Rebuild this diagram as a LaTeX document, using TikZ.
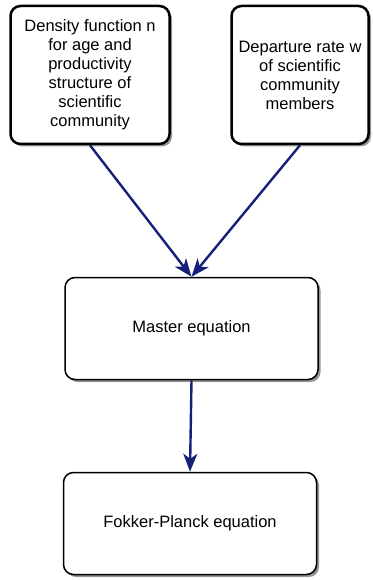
\documentclass[tikz,border=0pt]{standalone}
\usepackage{fontspec}
\setmainfont{Liberation Sans}
\usetikzlibrary{arrows.meta,shadows,positioning}
\definecolor{flowblue}{RGB}{22,32,122}
\definecolor{shadowgray}{RGB}{150,150,150}
\tikzstyle{box}=[draw, rounded corners=10pt, fill=white, align=center, inner sep=0,
                 font=\fontsize{16.5}{19}\selectfont,
                 drop shadow={shadow xshift=2.5pt, shadow yshift=-2.5pt, fill=shadowgray, opacity=1}]
\tikzstyle{inbox}=[box, line width=2.5pt, minimum height=138pt]
\tikzstyle{eqbox}=[box, line width=1.5pt, minimum width=253pt, minimum height=102pt]
\tikzstyle{flow}=[draw=flowblue, line width=2.4pt,
                  -{Stealth[length=18pt, width=14pt, inset=5pt, fill=flowblue]}]
\begin{document}
\begin{tikzpicture}[x=1pt, y=-1pt]
    \useasboundingbox (0, 0) rectangle (372, 580);
    % input boxes
    \node[inbox, minimum width=159pt] (density) at (90, 75)
        {Density function n\\for age and\\productivity\\structure of\\scientific\\community};
    \node[inbox, minimum width=137pt] (departure) at (300, 75)
        {Departure rate w\\of scientific\\community\\members};
    % equations
    \node[eqbox] (master) at (191.5, 328.5) {Master equation};
    \node[eqbox] (fokker) at (190, 523.5) {Fokker-Planck equation};
    \draw[flow] (density.south) -- (master.north);
    \draw[flow] (departure.south) -- (master.north);
    \draw[flow] (master.south) -- (fokker.north);
\end{tikzpicture}
\end{document}
